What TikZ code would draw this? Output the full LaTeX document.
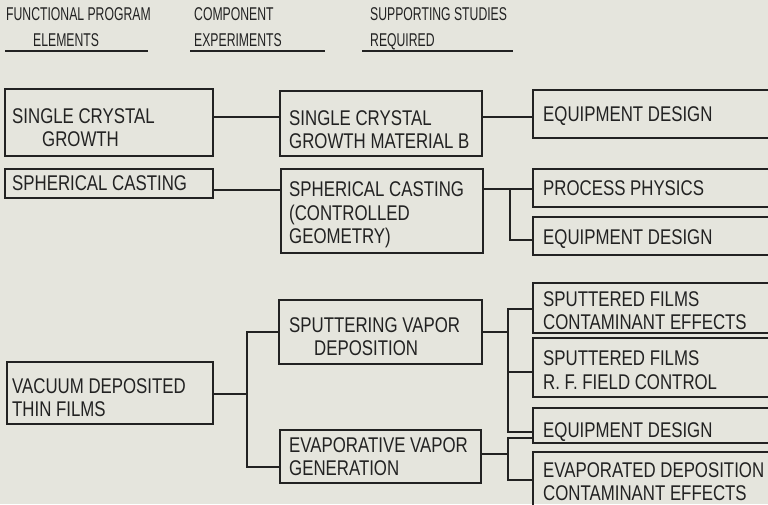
\documentclass[tikz,border=0pt]{standalone}
\usepackage{fontspec}
\setmainfont{Liberation Sans}
\newfontfamily\boxfont{Liberation Sans}[FakeStretch=0.79]
\newfontfamily\headfont{Liberation Sans}[FakeStretch=0.66]
\usetikzlibrary{fit}
\definecolor{bg}{RGB}{229,229,221}
\definecolor{ink}{RGB}{34,34,34}
\begin{document}
\begin{tikzpicture}[x=1pt,y=-1pt,
  bx/.style={draw=ink, line width=1.4pt, rectangle, inner sep=0pt},
  txt/.style={anchor=west, inner sep=0pt, align=left, text=ink, text depth=0pt,
    font=\boxfont\fontsize{21.3}{23.5}\selectfont},
  hd/.style={anchor=west, inner sep=0pt, align=left, text=ink, text depth=0pt,
    font=\headfont\fontsize{18.5}{26}\selectfont},
  ln/.style={draw=ink, line width=1.3pt},
  ul/.style={draw=ink, line width=1.6pt}]
\fill[bg] (0,0) rectangle (768,504);
\useasboundingbox (0,0) rectangle (768,504);

% headers
\node[hd] (H1) at (6,27.5) {FUNCTIONAL PROGRAM\\\hspace*{27pt}ELEMENTS};
\node[hd] (H2) at (194,27.5) {COMPONENT\\EXPERIMENTS};
\node[hd] (H3) at (370,27.5) {SUPPORTING STUDIES\\REQUIRED};
\draw[ul] (5,51) -- (148,51);
\draw[ul] (190,51) -- (325,51);
\draw[ul] (362,51) -- (513,51);

% column 1
\node[bx, fit={(5,89) (213,156)}] (A1) {};
\node[txt] (A1t) at (12,127.5) {SINGLE CRYSTAL\\\hspace*{30pt}GROWTH};
\node[bx, fit={(5,169) (213,198)}] (A2) {};
\node[txt] (A2t) at (12,183) {SPHERICAL CASTING};
\node[bx, fit={(7,362) (213,424)}] (A3) {};
\node[txt] (A3t) at (12,397.5) {VACUUM DEPOSITED\\THIN FILMS};

% column 2
\node[bx, fit={(280,91) (482,156)}] (B1) {};
\node[txt] (B1t) at (289,129.5) {SINGLE CRYSTAL\\GROWTH MATERIAL B};
\node[bx, fit={(281,169) (483,253)}] (B2) {};
\node[txt] (B2t) at (289,213) {SPHERICAL CASTING\\(CONTROLLED\\GEOMETRY)};
\node[bx, fit={(279,300) (482,364)}] (B3) {};
\node[txt] (B3t) at (289,336.5) {SPUTTERING VAPOR\\\hspace*{25pt}DEPOSITION};
\node[bx, fit={(280,430) (481,483)}] (B4) {};
\node[txt] (B4t) at (289,456.5) {EVAPORATIVE VAPOR\\GENERATION};

% column 3
\node[bx, fit={(533,90) (776,138)}] (C1) {};
\node[txt] (C1t) at (543,114) {EQUIPMENT DESIGN};
\node[bx, fit={(533,169) (776,207)}] (C2) {};
\node[txt] (C2t) at (543,188) {PROCESS PHYSICS};
\node[bx, fit={(533,217) (776,255)}] (C3) {};
\node[txt] (C3t) at (543,237) {EQUIPMENT DESIGN};
\node[bx, fit={(533,283) (776,333)}] (C4) {};
\node[txt] (C4t) at (543,310.5) {SPUTTERED FILMS\\CONTAMINANT EFFECTS};
\node[bx, fit={(533,338) (776,397)}] (C5) {};
\node[txt] (C5t) at (543,370) {SPUTTERED FILMS\\R. F. FIELD CONTROL};
\node[bx, fit={(533,408) (776,443)}] (C6) {};
\node[txt] (C6t) at (543,430.5) {EQUIPMENT DESIGN};
\node[bx, fit={(533,452) (776,512)}] (C7) {};
\node[txt] (C7t) at (543,481.5) {EVAPORATED DEPOSITION\\CONTAMINANT EFFECTS};

% connectors: top section
\draw[ln] (A1.east |- 0,117) -- (B1.west |- 0,117);
\draw[ln] (B1.east |- 0,117) -- (C1.west |- 0,117);
\draw[ln] (A2.east |- 0,190) -- (B2.west |- 0,190);
\coordinate (j1) at (510,189);
\draw[ln] (B2.east |- j1) -- (C2.west |- j1);
\draw[ln] (j1) |- (C3.west |- 0,240);

% connectors: bottom section
\coordinate (j2) at (247,394);
\draw[ln] (A3.east |- j2) -- (j2);
\draw[ln] (B3.west |- 0,332) -| (j2) |- (B4.west |- 0,467);
\coordinate (j3) at (508,332);
\draw[ln] (B3.east |- j3) -- (j3);
\draw[ln] (C4.west |- 0,309) -| (j3) |- (C6.west |- 0,432);
\draw[ln] (j3 |- 0,372) -- (C5.west |- 0,372);
\coordinate (j4) at (508,454);
\draw[ln] (B4.east |- j4) -- (j4);
\draw[ln] (C6.west |- 0,438) -| (j4) |- (C7.west |- 0,480);
\end{tikzpicture}
\end{document}
